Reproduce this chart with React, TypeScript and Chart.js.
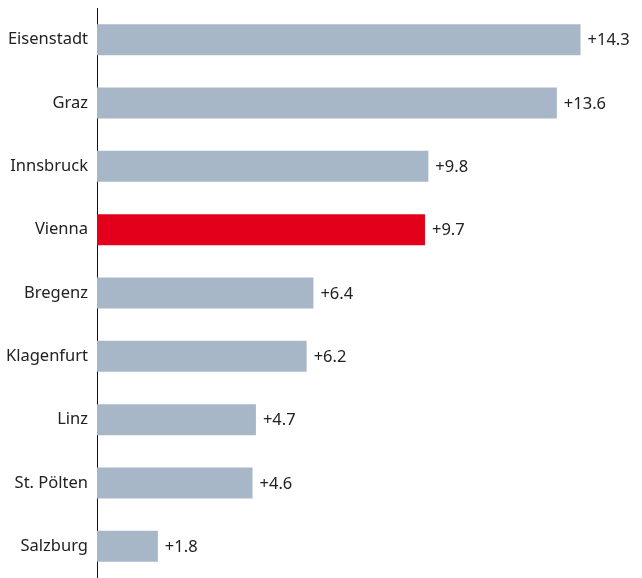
import React, { useEffect, useRef } from "react";
import { Chart, registerables } from "chart.js";

Chart.register(...registerables);

const cities = ["Eisenstadt", "Graz", "Innsbruck", "Vienna", "Bregenz", "Klagenfurt", "Linz", "St. Pölten", "Salzburg"];
const growth = [14.3, 13.6, 9.8, 9.7, 6.4, 6.2, 4.7, 4.6, 1.8];
const highlight = "Vienna";

const GREY = "#a7b7c8";
const RED = "#e2001a";
const FONT = "'Noto Sans', sans-serif";

const valueLabels = {
  id: "valueLabels",
  afterDatasetsDraw(chart: any) {
    const ctx = chart.ctx;
    const meta = chart.getDatasetMeta(0);
    ctx.save();
    ctx.font = `16.5px ${FONT}`;
    ctx.fillStyle = "#222222";
    ctx.textAlign = "left";
    ctx.textBaseline = "middle";
    meta.data.forEach((el: any, i: number) => {
      const v = chart.data.datasets[0].data[i] as number;
      ctx.fillText("+" + v.toFixed(1), el.x + 7, el.y + 1);
    });
    ctx.restore();
  },
};

export default function App() {
  const ref = useRef<HTMLCanvasElement>(null);
  useEffect(() => {
    if (!ref.current) return;
    const chart = new Chart(ref.current, {
      type: "bar",
      data: {
        labels: cities,
        datasets: [
          {
            data: growth,
            backgroundColor: cities.map((c) => (c === highlight ? RED : GREY)),
            categoryPercentage: 1,
            barPercentage: 0.49,
          },
        ],
      },
      options: {
        indexAxis: "y",
        animation: false,
        responsive: false,
        maintainAspectRatio: false,
        layout: { padding: { top: 8, bottom: 0, left: 0, right: 4 } },
        plugins: { legend: { display: false }, tooltip: { enabled: false } },
        scales: {
          x: {
            display: false,
            min: 0,
            max: 16,
          },
          y: {
            grid: { display: false, drawTicks: false },
            border: { display: true, color: "#111111", width: 1 },
            ticks: {
              color: "#222222",
              font: { family: FONT, size: 16.5 },
              padding: 9,
            },
            afterFit(scale: any) {
              scale.width = 97;
              scale.paddingTop = 0;
              scale.paddingBottom = 0;
            },
          },
        },
      },
      plugins: [valueLabels],
    });
    return () => chart.destroy();
  }, []);
  return (
    <div style={{ position: "fixed", left: 0, top: 0, width: 642, height: 578, background: "#fff" }}>
      <canvas ref={ref} width={642} height={578} />
    </div>
  );
}
